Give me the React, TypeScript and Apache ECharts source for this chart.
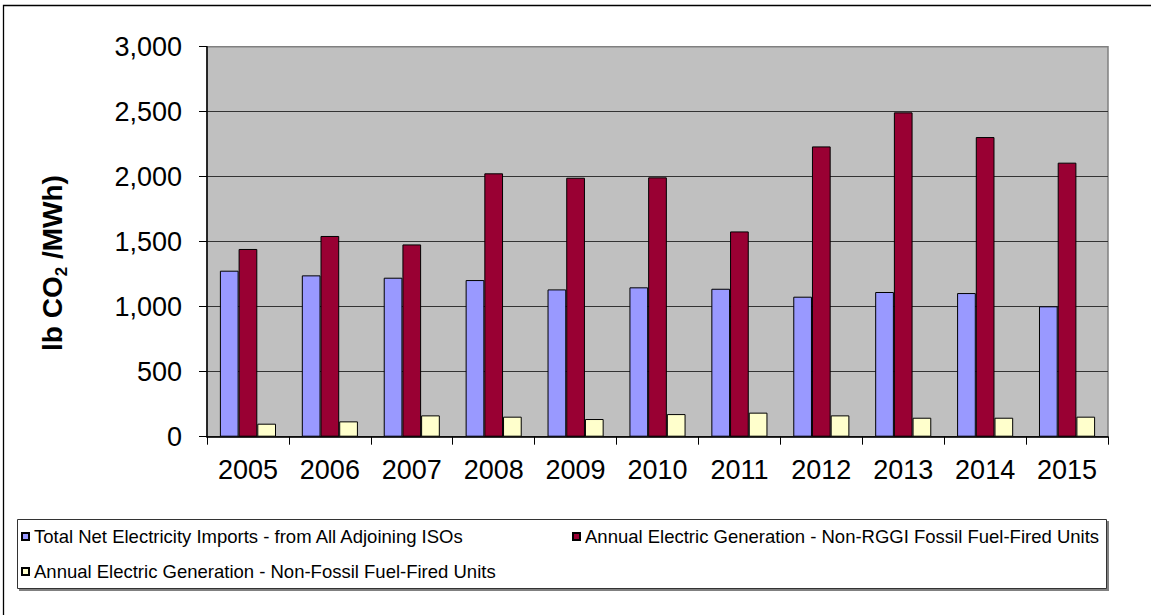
import React, { useEffect, useRef } from "react";
import * as echarts from "echarts";

const years = ["2005", "2006", "2007", "2008", "2009", "2010", "2011", "2012", "2013", "2014", "2015"];
const importsRate = [1277, 1241, 1223, 1205, 1133, 1149, 1138, 1077, 1113, 1105, 1003];
const nonRggiFossil = [1444, 1544, 1479, 2026, 1992, 1995, 1579, 2233, 2495, 2305, 2108];
const nonFossil = [100, 118, 164, 154, 136, 174, 185, 164, 146, 146, 154];

const seriesNames = [
  "Total Net Electricity Imports - from All Adjoining ISOs",
  "Annual Electric Generation - Non-RGGI Fossil Fuel-Fired Units",
  "Annual Electric Generation - Non-Fossil Fuel-Fired Units",
];
const seriesColors = ["#9999FF", "#990033", "#FFFFCC"];
const seriesValues = [importsRate, nonRggiFossil, nonFossil];

const FONT = "'Liberation Sans', Arial, sans-serif";

export default function App() {
  const ref = useRef<HTMLDivElement>(null);

  useEffect(() => {
    if (!ref.current) return;
    const chart = echarts.init(ref.current, undefined, { renderer: "svg" });

    const legendBase = {
      orient: "horizontal",
      padding: 0,
      itemWidth: 7,
      itemHeight: 7,
      icon: "rect",
      selectedMode: false,
      textStyle: { fontFamily: FONT, fontSize: 18.5, color: "#000" },
    };

    chart.setOption({
      animation: false,
      backgroundColor: "#ffffff",
      textStyle: { fontFamily: FONT },
      grid: {
        left: 207,
        right: 43,
        top: 46.7,
        bottom: 178.3,
        show: true,
        backgroundColor: "#C0C0C0",
        borderColor: "#808080",
        borderWidth: 1.5,
      },
      legend: [
        { ...legendBase, data: [seriesNames[0]], left: 21, top: 527 },
        { ...legendBase, data: [seriesNames[1]], left: 572, top: 527 },
        { ...legendBase, data: [seriesNames[2]], left: 21, top: 562 },
      ],
      xAxis: {
        type: "category",
        data: years,
        axisLine: { show: true, lineStyle: { color: "#000", width: 1.5 } },
        axisTick: { show: true, alignWithLabel: false, length: 8, lineStyle: { color: "#000", width: 1 } },
        axisLabel: { fontFamily: FONT, fontSize: 27, color: "#000", margin: 20 },
        splitLine: { show: false },
      },
      yAxis: {
        type: "value",
        min: 0,
        max: 3000,
        interval: 500,
        axisLine: { show: true, lineStyle: { color: "#000", width: 1.5 } },
        axisTick: { show: true, length: 8, lineStyle: { color: "#000", width: 1 } },
        axisLabel: {
          fontFamily: FONT,
          fontSize: 27,
          color: "#000",
          margin: 25,
          formatter: (v: number) => v.toLocaleString("en-US"),
        },
        splitLine: { show: true, showMaxLine: false, lineStyle: { color: "#333333", width: 1 } },
      },
      series: seriesValues.map((vals, i) => ({
        type: "bar",
        name: seriesNames[i],
        data: vals,
        barWidth: 18.7,
        barGap: "0%",
        itemStyle: { color: seriesColors[i], borderColor: "#000", borderWidth: 1 },
      })),
      graphic: [
        {
          type: "rect",
          silent: true,
          z: -10,
          shape: { x: 3.5, y: 5.5, width: 1300, height: 800 },
          style: { fill: "none", stroke: "#000", lineWidth: 1.3 },
        },
        {
          type: "rect",
          silent: true,
          z: -9,
          shape: { x: 19, y: 521, width: 1090, height: 70 },
          style: { fill: "#808080" },
        },
        {
          type: "rect",
          silent: true,
          z: -8,
          shape: { x: 17.5, y: 519.5, width: 1089, height: 69 },
          style: { fill: "#ffffff", stroke: "#333", lineWidth: 1 },
        },
        {
          type: "text",
          silent: true,
          x: 52,
          y: 263,
          rotation: Math.PI / 2,
          style: {
            text: "{a|lb CO}{b|2}{a| /MWh)}",
            align: "center",
            verticalAlign: "middle",
            fill: "#000",
            rich: {
              a: { fontFamily: FONT, fontSize: 28, fontWeight: "bold", lineHeight: 36, fill: "#000" },
              b: { fontFamily: FONT, fontSize: 17, fontWeight: "bold", lineHeight: 17, verticalAlign: "bottom", fill: "#000" },
            },
          },
        },
      ],
    });

    return () => chart.dispose();
  }, []);

  return (
    <div
      ref={ref}
      style={{ position: "fixed", left: 0, top: 0, width: 1151, height: 615 }}
    />
  );
}
